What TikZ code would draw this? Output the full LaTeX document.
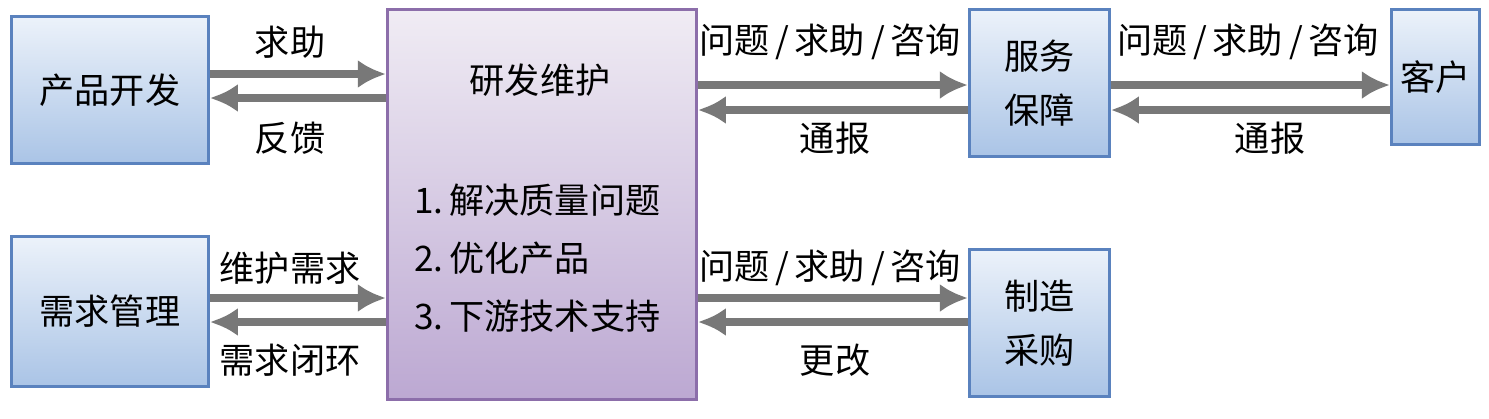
\documentclass[tikz,border=0pt]{standalone}
\usepackage{fontspec}
\setmainfont{Noto Sans CJK SC}
\definecolor{bluetop}{RGB}{236,242,250}
\definecolor{bluebot}{RGB}{170,196,230}
\definecolor{blueline}{RGB}{90,130,190}
\definecolor{purtop}{RGB}{240,236,244}
\definecolor{purbot}{RGB}{188,168,210}
\definecolor{purline}{RGB}{140,110,170}
\definecolor{arrgray}{RGB}{120,120,120}
\tikzset{
  bluebox/.style={draw=blueline,thick,top color=bluetop,bottom color=bluebot,
    align=center,inner sep=0pt},
  arr/.style={draw=arrgray,line width=2pt,-{Latex[length=8pt,width=8pt]}},
}
\usetikzlibrary{arrows.meta}
\begin{document}
\begin{tikzpicture}[font=\fontsize{10}{13.5}\selectfont]
  \useasboundingbox (0,0) rectangle (14.89,-4.18);
  %Boxes
  \node[bluebox,minimum width=1.97cm,minimum height=1.47cm,anchor=north west] (cpkf) at (0.10,-0.15) {产品开发};
  \node[bluebox,minimum width=1.97cm,minimum height=1.50cm,anchor=north west] (xqgl) at (0.10,-2.35) {需求管理};
  \node[draw=purline,thick,top color=purtop,bottom color=purbot,minimum width=3.09cm,minimum height=3.90cm,anchor=north west] (yfwh) at (3.86,-0.08) {};
  \node[bluebox,minimum width=1.40cm,minimum height=1.47cm,anchor=north west] (fwbz) at (9.68,-0.08) {服务\\[2pt]保障};
  \node[bluebox,minimum width=0.88cm,minimum height=1.35cm,anchor=north west] (kh) at (13.90,-0.08) {客户};
  \node[bluebox,minimum width=1.40cm,minimum height=1.47cm,anchor=north west] (zzcg) at (9.68,-2.48) {制造\\[2pt]采购};

  %Text in main box
  \node (title) at (5.40,-0.80) {研发维护};
  \node[anchor=west] (it1) at (4.02,-2.00) {1.\,解决质量问题};
  \node[anchor=west] (it2) at (4.02,-2.58) {2.\,优化产品};
  \node[anchor=west] (it3) at (4.02,-3.16) {3.\,下游技术支持};

  %Arrows
  \draw[arr] (cpkf.east |- 0,-0.74) -- (yfwh.west |- 0,-0.74);
  \draw[arr] (yfwh.west |- 0,-0.98) -- (cpkf.east |- 0,-0.98);
  \draw[arr] (xqgl.east |- 0,-2.98) -- (yfwh.west |- 0,-2.98);
  \draw[arr] (yfwh.west |- 0,-3.22) -- (xqgl.east |- 0,-3.22);
  \draw[arr] (yfwh.east |- 0,-0.85) -- (fwbz.west |- 0,-0.85);
  \draw[arr] (fwbz.west |- 0,-1.10) -- (yfwh.east |- 0,-1.10);
  \draw[arr] (fwbz.east |- 0,-0.85) -- (kh.west |- 0,-0.85);
  \draw[arr] (kh.west |- 0,-1.10) -- (fwbz.east |- 0,-1.10);
  \draw[arr] (yfwh.east |- 0,-2.98) -- (zzcg.west |- 0,-2.98);
  \draw[arr] (zzcg.west |- 0,-3.22) -- (yfwh.east |- 0,-3.22);

  %Labelling
  \node (l1) at (2.90,-0.42) {求助};
  \node (l2) at (2.90,-1.38) {反馈};
  \node (l3) at (2.90,-2.68) {维护需求};
  \node (l4) at (2.90,-3.60) {需求闭环};
  \node (l5) at (8.30,-0.42) {问题\,/\,求助\,/\,咨询};
  \node (l6) at (8.35,-1.38) {通报};
  \node (l7) at (12.48,-0.42) {问题\,/\,求助\,/\,咨询};
  \node (l8) at (12.70,-1.38) {通报};
  \node (l9) at (8.30,-2.68) {问题\,/\,求助\,/\,咨询};
  \node (l10) at (8.35,-3.60) {更改};
\end{tikzpicture}
\end{document}
